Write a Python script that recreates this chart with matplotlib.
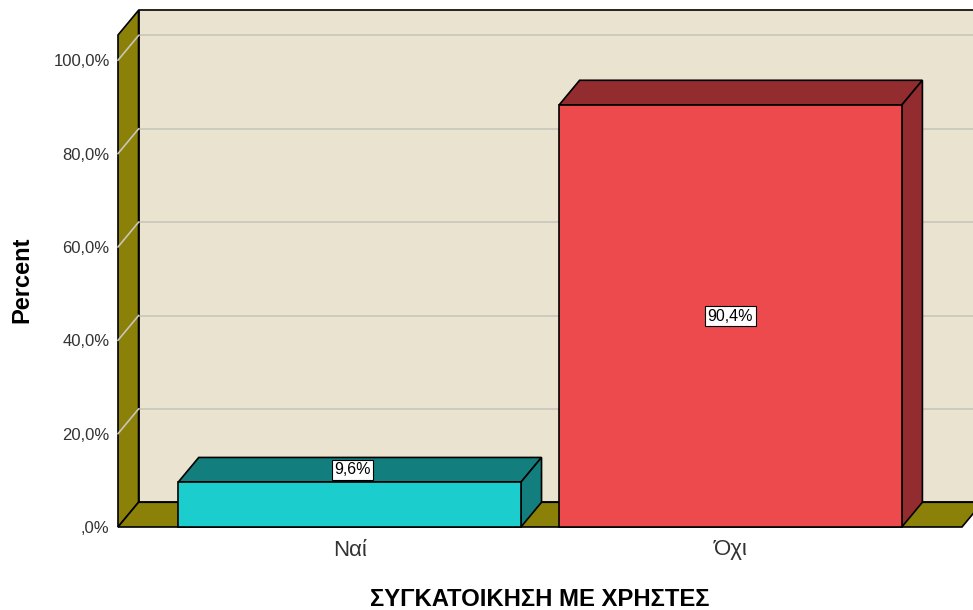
import matplotlib
matplotlib.use('Agg')
import matplotlib.pyplot as plt
from matplotlib.patches import Polygon

plt.rcParams['font.family'] = ['Liberation Sans', 'DejaVu Sans']

# data
categories = ['Ναί', 'Όχι']
percents = [9.6, 90.4]
value_labels = ['9,6%', '90,4%']
yticks = [0, 20, 40, 60, 80, 100]
ytick_labels = [',0%', '20,0%', '40,0%', '60,0%', '80,0%', '100,0%']

front_colors = ['#1ccdcd', '#ec4a4c']
side_colors = ['#127e7e', '#922c2f']
wall_color = '#e9e3d0'
floor_color = '#8b8008'
grid_color = '#c8c6bc'

# geometry (data units)
x0, x1 = -0.608, 1.608
ytop = 105.4
ddx, ddy = 0.054, 5.3   # depth offset
bw = 0.9

fig = plt.figure(figsize=(9.73, 6.10), dpi=100)
ax = fig.add_axes([118 / 973, 83 / 610, (962 - 118) / 973, (527 - 35) / 610])
ax.set_xlim(x0, x1)
ax.set_ylim(0, ytop)
for s in ax.spines.values():
    s.set_visible(False)
ax.patch.set_visible(False)

# back wall
ax.add_patch(Polygon([(x0 + ddx, ddy), (x1 + ddx, ddy), (x1 + ddx, ytop + ddy), (x0 + ddx, ytop + ddy)],
                     closed=True, fc=wall_color, ec='black', lw=1.2, clip_on=False, zorder=1))
# left wall
ax.add_patch(Polygon([(x0, 0), (x0 + ddx, ddy), (x0 + ddx, ytop + ddy), (x0, ytop)],
                     closed=True, fc=floor_color, ec='black', lw=1.2, clip_on=False, zorder=2))
# floor
ax.add_patch(Polygon([(x0, 0), (x1, 0), (x1 + ddx, ddy), (x0 + ddx, ddy)],
                     closed=True, fc=floor_color, ec='black', lw=1.2, clip_on=False, zorder=2))

# gridlines on back wall and left wall
for t in yticks[1:]:
    ax.plot([x0 + ddx, x1 + ddx], [t + ddy, t + ddy], color=grid_color, lw=1.2, clip_on=False, zorder=1.5)
    ax.plot([x0, x0 + ddx], [t, t + ddy], color=grid_color, lw=1.2, clip_on=False, zorder=2.5)

# 3d bars
for i, (p, fc, sc) in enumerate(zip(percents, front_colors, side_colors)):
    l, r = i - bw / 2, i + bw / 2
    ax.add_patch(Polygon([(l, p), (r, p), (r + ddx, p + ddy), (l + ddx, p + ddy)],
                         closed=True, fc=sc, ec='black', lw=1.2, clip_on=False, zorder=3))
    ax.add_patch(Polygon([(r, 0), (r + ddx, ddy), (r + ddx, p + ddy), (r, p)],
                         closed=True, fc=sc, ec='black', lw=1.2, clip_on=False, zorder=3))
    ax.bar(i, p, width=bw, color=fc, edgecolor='black', lw=1.2, zorder=4, clip_on=False)

# value labels
box = dict(boxstyle='square,pad=0.15', fc='white', ec='black', lw=0.8)
ax.text(0 + 0.008, percents[0] + ddy / 2, value_labels[0], ha='center', va='center',
        fontsize=11.5, bbox=box, zorder=6)
ax.text(1, percents[1] / 2, value_labels[1], ha='center', va='center',
        fontsize=11.5, bbox=box, zorder=6)

ax.set_yticks(yticks)
ax.set_yticklabels(ytick_labels, fontsize=12, color='#333333')
ax.set_xticks(range(len(categories)))
ax.set_xticklabels(categories, fontsize=16, color='#333333')
ax.tick_params(axis='both', length=0)
ax.tick_params(axis='y', pad=6)
ax.tick_params(axis='x', pad=9)
ax.set_xlabel('ΣΥΓΚΑΤΟΙΚΗΣΗ ΜΕ ΧΡΗΣΤΕΣ', fontsize=17.2, fontweight='bold')
ax.set_ylabel('Percent', fontsize=17, fontweight='bold')
ax.xaxis.set_label_coords((540 - 118) / (962 - 118), -(588 - 527) / (527 - 35))
ax.yaxis.set_label_coords(-(118 - 33) / (962 - 118), (527 - 280) / (527 - 35))

fig.savefig('out.png', dpi=100)
